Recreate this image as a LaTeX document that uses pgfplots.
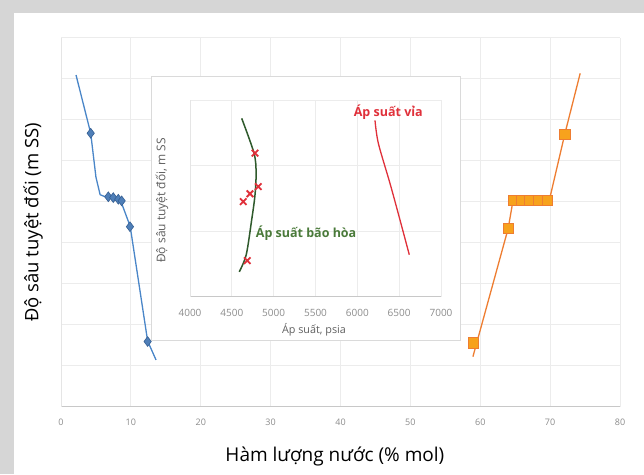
\documentclass[border=0pt]{standalone}
\usepackage{fontspec}
\setmainfont{Open Sans}
\usepackage{pgfplots}
\pgfplotsset{compat=1.18}
\definecolor{framegray}{HTML}{D6D6D6}
\definecolor{insetframe}{HTML}{DADADA}
\definecolor{gridc}{HTML}{ECECEC}
\definecolor{axisc}{HTML}{C8C8C8}
\definecolor{tickc}{HTML}{8C8C8C}
\definecolor{bluel}{HTML}{4A86C8}
\definecolor{bluem}{HTML}{4F7FB8}
\definecolor{bluemd}{HTML}{355F93}
\definecolor{orangel}{HTML}{EE7D31}
\definecolor{orangem}{HTML}{F7A21C}
\definecolor{greenl}{HTML}{2F5A2C}
\definecolor{greent}{HTML}{4A7A3A}
\definecolor{redl}{HTML}{E0303A}
\definecolor{insetlab}{HTML}{606060}

\begin{document}
\begin{tikzpicture}[x=1pt,y=1pt]
\fill[framegray] (0,0) rectangle (644,474);
\fill[white] (14,0) rectangle (644,461);
\useasboundingbox (0,0) rectangle (644,474);

% main chart: water content vs depth
\begin{axis}[
  at={(61pt,67.3pt)}, anchor=south west,
  width=559pt, height=369pt, scale only axis,
  xmin=0, xmax=80, ymin=0, ymax=9,
  xtick={0,10,...,80}, ytick={0,1,...,9}, yticklabels={},
  major tick length=0pt,
  grid=major, grid style={gridc, line width=0.8pt},
  axis x line*=bottom, axis y line*=left,
  x axis line style={axisc, line width=1pt, -},
  y axis line style={gridc!80!axisc, line width=1pt, -},
  /pgf/number format/assume math mode=true,
  xticklabel style={font=\fontsize{9}{10}\selectfont, text=tickc, anchor=center, yshift=-16pt},
  xlabel={Hàm lượng nước (\% mol)},
  ylabel={Độ sâu tuyệt đối (m SS)},
  label style={text=black},
  xlabel style={font=\fontsize{19}{21}\selectfont, at={(axis description cs:0.49,-0.1355)}, anchor=center},
  ylabel style={font=\fontsize{18.5}{20}\selectfont, at={(axis description cs:-0.0501,0.5)}, anchor=center},
]
  % blue line
  \addplot[bluel, line width=1.3pt, line join=round] coordinates {
    (2.15,8.09) (4.25,6.67) (5.0,5.6) (5.6,5.17) (6.5,5.11) (8.2,5.05)
    (8.7,4.95) (9.9,4.4) (12.4,1.6) (13.6,1.14)};
  \addplot[only marks, mark=diamond*, mark size=4.9pt,
    mark options={fill=bluem, draw=bluemd, line width=0.6pt}] coordinates {
    (4.25,6.67) (6.77,5.12) (7.48,5.10) (8.2,5.06) (8.68,5.02) (9.87,4.39) (12.4,1.59)};
  % orange line
  \addplot[orangel, line width=1.3pt, line join=round] coordinates {
    (58.95,1.22) (64.0,4.35) (64.7,5.04) (69.6,5.06) (70.0,5.12) (72.1,6.65) (74.3,8.13)};
  \addplot[only marks, mark=square*, mark size=5.1pt,
    mark options={fill=orangem, draw=orangel, line width=0.6pt}] coordinates {
    (59.0,1.56) (64.0,4.35) (64.7,5.04) (65.9,5.04) (67.1,5.04) (68.3,5.04)
    (69.6,5.04) (72.1,6.65)};
\end{axis}

% inset frame
\filldraw[fill=white, draw=insetframe, line width=1pt] (151,134) rectangle (460,397);

% inset: pressure vs depth
\begin{axis}[
  at={(190pt,177.3pt)}, anchor=south west,
  width=251pt, height=196.7pt, scale only axis,
  xmin=4000, xmax=7000, ymin=0, ymax=3,
  xtick={4000,4500,...,7000}, ytick={0,1,2,3}, yticklabels={},
  major tick length=0pt,
  grid=major, grid style={gridc, line width=0.8pt},
  axis x line*=bottom, axis y line*=left,
  x axis line style={axisc, line width=1pt, -},
  y axis line style={gridc!80!axisc, line width=1pt, -},
  /pgf/number format/assume math mode=true,
  /pgf/number format/set thousands separator={},
  xticklabel style={font=\fontsize{10}{11}\selectfont, text=tickc, anchor=center, yshift=-16.5pt},
  xlabel={Áp suất, psia},
  ylabel={Độ sâu tuyệt đối, m SS},
  label style={text=insetlab},
  xlabel style={font=\fontsize{10.8}{12}\selectfont, at={(axis description cs:0.494,-0.168)}, anchor=center},
  ylabel style={font=\fontsize{12}{13}\selectfont, at={(axis description cs:-0.1116,0.49)}, anchor=center},
]
  \addplot[greenl, line width=1.5pt, smooth] coordinates {
    (4589,0.38) (4672,0.64) (4737,1.17) (4776,1.54) (4790,1.89) (4765,2.19) (4618,2.72)};
  \addplot[redl, line width=1.3pt, smooth] coordinates {
    (6211,2.69) (6251,2.34) (6390,1.73) (6510,1.17) (6621,0.64)};
  \addplot[only marks, mark=x, mark size=4.6pt, mark options={redl, line width=1.8pt}]
    coordinates {(4777,2.19) (4816,1.68) (4717,1.57) (4637,1.45) (4685,0.55)};
  \node[anchor=center, text=redl, font=\bfseries\fontsize{12.5}{14}\selectfont]
    at (axis cs:6370,2.82) {Áp suất vỉa};
  \node[anchor=west, inner sep=0pt, text=greent, font=\bfseries\fontsize{12.5}{14}\selectfont]
    at (axis cs:4785,0.97) {Áp suất bão hòa};
\end{axis}
\end{tikzpicture}
\end{document}
